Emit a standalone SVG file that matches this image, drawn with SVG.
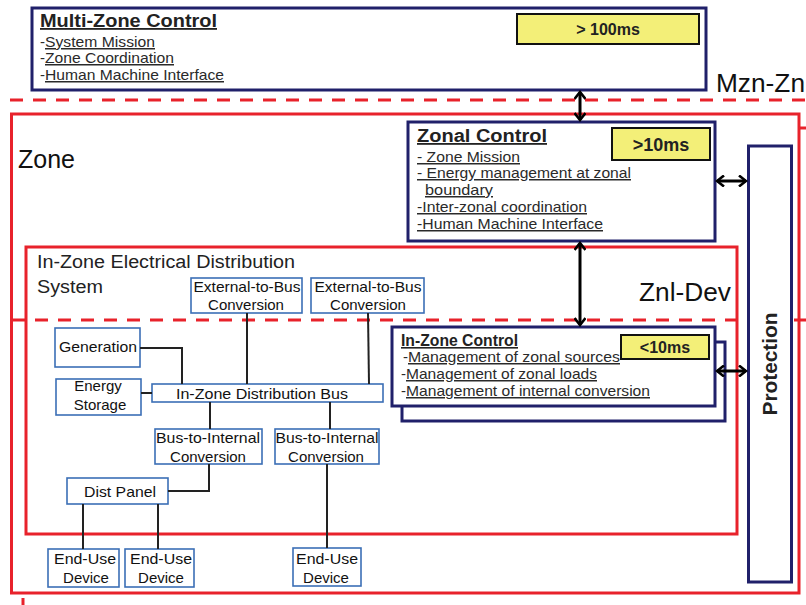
<svg xmlns="http://www.w3.org/2000/svg" width="806" height="605" viewBox="0 0 806 605">
<style>
.red{fill:none;stroke:#e8222b;stroke-width:3}
.dash{fill:none;stroke:#e8222b;stroke-width:3;stroke-dasharray:13 10}
.navy{fill:#fff;stroke:#20206a;stroke-width:3}
.yel{fill:#f3ef78;stroke:#111;stroke-width:2}
.node{fill:#fff;stroke:#3b6fb6;stroke-width:1.6}
.wire{fill:none;stroke:#222;stroke-width:2}
.arr{fill:none;stroke:#000;stroke-width:3}
.t{font-family:"Liberation Sans",Arial,sans-serif;fill:#222}
.b{font-weight:bold}
.u{text-decoration:underline}
.big{font-family:"Liberation Sans",Arial,sans-serif;fill:#111;font-size:25px}
.n{font-family:"Liberation Sans",Arial,sans-serif;fill:#111;font-size:15px;text-anchor:middle}
.g{font-family:"Liberation Sans",Arial,sans-serif;fill:#2a2a2a;font-size:15px}
</style>
<defs>
<marker id="ah" viewBox="0 0 10 12" refX="8" refY="6" markerWidth="10" markerHeight="12" markerUnits="userSpaceOnUse" orient="auto-start-reverse">
<path d="M1,0.5 L8,6 L1,11.5" fill="none" stroke="#000" stroke-width="2.6"/>
</marker>
</defs>

<!-- zone frames -->
<g id="zone">
<rect class="red" x="11.5" y="114" width="787.5" height="479"/>
<line class="red" x1="799" y1="128" x2="806" y2="128"/>
<line class="red" x1="23" y1="598" x2="23" y2="605"/>
<text class="big" x="18" y="168" font-size="24">Zone</text>
</g>
<g id="boundaries">
<line class="dash" x1="10" y1="100" x2="806" y2="100"/>
<line class="dash" x1="12" y1="320" x2="806" y2="320"/>
<text class="big" x="716" y="92" textLength="89" lengthAdjust="spacingAndGlyphs">Mzn-Zn</text>
<text class="big" x="639" y="301" textLength="92" lengthAdjust="spacingAndGlyphs">Znl-Dev</text>
</g>
<g id="distribution-system">
<rect class="red" x="26" y="247" width="711" height="287"/>
<text class="t" x="37" y="268" font-size="18" textLength="258" lengthAdjust="spacingAndGlyphs">In-Zone Electrical Distribution</text>
<text class="t" x="37" y="293" font-size="18" textLength="66" lengthAdjust="spacingAndGlyphs">System</text>
</g>

<!-- Multi-Zone Control -->
<g id="multi-zone-control">
<rect class="navy" x="32" y="8" width="674" height="82"/>
<text class="t b u" x="40" y="27" font-size="18" textLength="177" lengthAdjust="spacingAndGlyphs">Multi-Zone Control</text>
<text class="g" x="40" y="47">-</text><text class="g u" x="45" y="47" textLength="110" lengthAdjust="spacingAndGlyphs">System Mission</text>
<text class="g" x="40" y="63">-</text><text class="g u" x="45" y="63" textLength="129" lengthAdjust="spacingAndGlyphs">Zone Coordination</text>
<text class="g" x="40" y="80">-</text><text class="g u" x="45" y="80" textLength="179" lengthAdjust="spacingAndGlyphs">Human Machine Interface</text>
<rect class="yel" x="517" y="14" width="182" height="30"/>
<text class="t b" x="608" y="35" font-size="16" text-anchor="middle">&gt; 100ms</text>
</g>

<!-- Zonal Control -->
<g id="zonal-control">
<rect class="navy" x="408" y="122" width="307" height="119"/>
<text class="t b u" x="417" y="142" font-size="18" textLength="130" lengthAdjust="spacingAndGlyphs">Zonal Control</text>
<text class="g u" x="417" y="162" textLength="103" lengthAdjust="spacingAndGlyphs">- Zone Mission</text>
<text class="g u" x="417" y="178" textLength="214" lengthAdjust="spacingAndGlyphs">- Energy management at zonal</text>
<text class="g u" x="425" y="195" textLength="68" lengthAdjust="spacingAndGlyphs">boundary</text>
<text class="g u" x="417" y="212" textLength="170" lengthAdjust="spacingAndGlyphs">-Inter-zonal coordination</text>
<text class="g u" x="417" y="229" textLength="186" lengthAdjust="spacingAndGlyphs">-Human Machine Interface</text>
<rect class="yel" x="612" y="128" width="98" height="32"/>
<text class="t b" x="661" y="151" font-size="18" text-anchor="middle">&gt;10ms</text>
</g>

<!-- Protection -->
<g id="protection">
<rect class="navy" x="748.5" y="146" width="43" height="436"/>
<text class="t b" font-size="20" text-anchor="middle" transform="translate(777,364) rotate(-90)" textLength="103" lengthAdjust="spacingAndGlyphs">Protection</text>
</g>

<!-- In-Zone Control -->
<g id="in-zone-control">
<rect class="navy" x="402" y="342" width="323" height="79"/>
<rect class="navy" x="392" y="327" width="323" height="79"/>
<text class="t b u" x="401" y="346" font-size="16" textLength="117" lengthAdjust="spacingAndGlyphs">In-Zone Control</text>
<text class="g" x="403" y="362">-</text><text class="g u" x="408" y="362" textLength="212" lengthAdjust="spacingAndGlyphs">Management of zonal sources</text>
<text class="g" x="401" y="379">-</text><text class="g u" x="406" y="379" textLength="191" lengthAdjust="spacingAndGlyphs">Management of zonal loads</text>
<text class="g" x="401" y="396">-</text><text class="g u" x="406" y="396" textLength="244" lengthAdjust="spacingAndGlyphs">Management of internal conversion</text>
<rect class="yel" x="621" y="335" width="88" height="24"/>
<text class="t b" x="665" y="353" font-size="16" text-anchor="middle">&lt;10ms</text>
</g>

<!-- distribution nodes -->
<g id="generation"><rect class="node" x="55" y="328" width="85" height="39"/><text class="n" x="98" y="352" textLength="78" lengthAdjust="spacingAndGlyphs">Generation</text></g>
<g id="energy-storage"><rect class="node" x="56" y="379" width="85" height="36"/><text class="n" x="98" y="391">Energy</text><text class="n" x="100" y="410">Storage</text></g>
<g id="bus"><rect class="node" x="152" y="384" width="231" height="18"/><text class="n" x="262" y="399" textLength="172" lengthAdjust="spacingAndGlyphs">In-Zone  Distribution Bus</text></g>
<g id="ext-conv-1"><rect class="node" x="191" y="278" width="111" height="35"/><text class="n" x="247" y="292" textLength="107" lengthAdjust="spacingAndGlyphs">External-to-Bus</text><text class="n" x="246" y="310">Conversion</text></g>
<g id="ext-conv-2"><rect class="node" x="311" y="278" width="113" height="35"/><text class="n" x="368" y="292" textLength="107" lengthAdjust="spacingAndGlyphs">External-to-Bus</text><text class="n" x="368" y="310">Conversion</text></g>
<g id="b2i-conv-1"><rect class="node" x="155" y="429" width="107" height="35"/><text class="n" x="208" y="443" textLength="104" lengthAdjust="spacingAndGlyphs">Bus-to-Internal</text><text class="n" x="208" y="462">Conversion</text></g>
<g id="b2i-conv-2"><rect class="node" x="275" y="429" width="104" height="35"/><text class="n" x="327" y="443" textLength="103" lengthAdjust="spacingAndGlyphs">Bus-to-Internal</text><text class="n" x="326" y="462">Conversion</text></g>
<g id="dist-panel"><rect class="node" x="67" y="478" width="101" height="26"/><text class="n" x="120" y="497" textLength="72" lengthAdjust="spacingAndGlyphs">Dist Panel</text></g>
<g id="end-use-1"><rect class="node" x="48" y="549" width="71" height="38"/><text class="n" x="85" y="564" textLength="62" lengthAdjust="spacingAndGlyphs">End-Use</text><text class="n" x="86" y="583">Device</text></g>
<g id="end-use-2"><rect class="node" x="125" y="549" width="69" height="38"/><text class="n" x="161" y="564" textLength="62" lengthAdjust="spacingAndGlyphs">End-Use</text><text class="n" x="161" y="583">Device</text></g>
<g id="end-use-3"><rect class="node" x="293" y="548" width="68" height="38"/><text class="n" x="327" y="564" textLength="62" lengthAdjust="spacingAndGlyphs">End-Use</text><text class="n" x="326" y="583">Device</text></g>

<!-- connectors -->
<g id="connectors">
<polyline class="wire" points="140,348 182,348 182,384"/>
<line class="wire" x1="141" y1="393" x2="152" y2="393"/>
<line class="wire" x1="247" y1="313" x2="247" y2="384"/>
<line class="wire" x1="368" y1="313" x2="369" y2="384"/>
<line class="wire" x1="210" y1="402" x2="210" y2="429"/>
<line class="wire" x1="330" y1="402" x2="330" y2="429"/>
<polyline class="wire" points="209,464 209,491 168,491"/>
<line class="wire" x1="83" y1="504" x2="83" y2="549"/>
<line class="wire" x1="158" y1="504" x2="158" y2="549"/>
<line class="wire" x1="327" y1="464" x2="327" y2="548"/>
<line class="arr" x1="580" y1="92" x2="580" y2="120" marker-start="url(#ah)" marker-end="url(#ah)"/>
<line class="arr" x1="580" y1="243" x2="580" y2="325" marker-start="url(#ah)" marker-end="url(#ah)"/>
<line class="arr" x1="717" y1="181" x2="746" y2="181" marker-start="url(#ah)" marker-end="url(#ah)"/>
<line class="arr" x1="717" y1="371" x2="746" y2="371" marker-start="url(#ah)" marker-end="url(#ah)"/>
</g>
</svg>
